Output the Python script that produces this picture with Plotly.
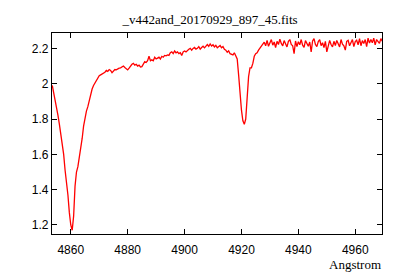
import plotly.graph_objects as go

title_text = "_v442and_20170929_897_45.fits"
x_label = "Angstrom"

wave_start = 4853.5
wave_step = 0.5

flux = [
    # 4853.5 - 4878.0
    1.99, 1.95, 1.91, 1.88, 1.82, 1.77, 1.72, 1.65, 1.60, 1.51,
    1.45, 1.37, 1.27, 1.20, 1.17, 1.25, 1.42, 1.50, 1.53, 1.58,
    1.64, 1.69, 1.76, 1.81, 1.845, 1.87, 1.91, 1.93, 1.97, 1.99,
    2.005, 2.02, 2.03, 2.045, 2.05, 2.055, 2.06, 2.065, 2.075, 2.07,
    2.08, 2.075, 2.062, 2.075, 2.08, 2.078, 2.085, 2.088, 2.09, 2.095,
    # 4878.5 - 4903.0
    2.10, 2.092, 2.082, 2.078, 2.088, 2.10, 2.11, 2.115, 2.105, 2.11,
    2.10, 2.105, 2.095, 2.097, 2.11, 2.125, 2.12, 2.13, 2.155, 2.13,
    2.135, 2.13, 2.15, 2.14, 2.145, 2.15, 2.14, 2.155, 2.15, 2.16,
    2.158, 2.163, 2.16, 2.175, 2.18, 2.17, 2.185, 2.175, 2.18, 2.17,
    2.175, 2.16, 2.18, 2.185, 2.18, 2.19, 2.195, 2.20, 2.19, 2.20,
    # 4903.5 - 4928.0
    2.205, 2.195, 2.20, 2.21, 2.196, 2.205, 2.212, 2.203, 2.215, 2.222,
    2.212, 2.225, 2.213, 2.22, 2.208, 2.217, 2.203, 2.212, 2.216, 2.203,
    2.21, 2.195, 2.19, 2.178, 2.186, 2.17, 2.165, 2.163, 2.175, 2.16,
    2.14, 2.05, 1.93, 1.85, 1.79, 1.77, 1.80, 1.93, 2.04, 2.09,
    2.09, 2.115, 2.155, 2.17, 2.175, 2.19, 2.20, 2.215, 2.225, 2.235,
    # 4928.5 - 4953.0
    2.215, 2.245, 2.212, 2.238, 2.25, 2.218, 2.236, 2.205, 2.24, 2.222,
    2.252, 2.228, 2.214, 2.244, 2.226, 2.208, 2.24, 2.25, 2.222, 2.215,
    2.17, 2.242, 2.21, 2.238, 2.22, 2.25, 2.218, 2.205, 2.244, 2.23,
    2.212, 2.236, 2.18, 2.242, 2.255, 2.222, 2.21, 2.238, 2.25, 2.215,
    2.232, 2.205, 2.24, 2.18, 2.215, 2.245, 2.222, 2.208, 2.24, 2.216,
    # 4953.5 - 4969.5
    2.245, 2.222, 2.208, 2.25, 2.224, 2.214, 2.19, 2.24, 2.246, 2.215,
    2.232, 2.25, 2.21, 2.238, 2.246, 2.22, 2.255, 2.215, 2.244, 2.228,
    2.25, 2.21, 2.258, 2.23, 2.25, 2.232, 2.258, 2.22, 2.25, 2.236,
    2.228, 2.255, 2.24,
]

wave = [wave_start + i * wave_step for i in range(len(flux))]

x_ticks = [4860, 4880, 4900, 4920, 4940, 4960]
y_ticks = [1.2, 1.4, 1.6, 1.8, 2.0, 2.2]
y_tick_text = ["1.2", "1.4", "1.6", "1.8", "2", "2.2"]

fig = go.Figure()
fig.add_trace(go.Scatter(
    x=wave, y=flux, mode="lines",
    line=dict(color="#ff0000", width=1.3),
    showlegend=False, hoverinfo="skip",
))

# The page body has an 8px margin, so the layout is shifted up/left by 8px.
fig.update_layout(
    width=400, height=280,
    margin=dict(l=44, r=26, t=25, b=54),
    paper_bgcolor="white", plot_bgcolor="white",
    title=dict(text=title_text, x=0.505, xanchor="center", y=0.959, yanchor="middle",
               font=dict(family="Liberation Serif", size=13, color="black")),
    annotations=[dict(text=x_label, xref="paper", yref="paper", x=1.003, y=-0.105,
                      xanchor="right", yanchor="top", showarrow=False,
                      font=dict(family="Liberation Serif", size=13, color="black"))],
)
fig.update_xaxes(
    range=[4853.4, 4969.4], tickvals=x_ticks, ticks="inside", ticklen=5,
    tickcolor="black", showline=True, linecolor="black", linewidth=1.2,
    mirror="ticks", showgrid=False, zeroline=False, ticklabelstandoff=4,
    tickfont=dict(family="Liberation Sans", size=12, color="black"),
)
fig.update_yaxes(
    range=[1.149, 2.287], tickvals=y_ticks, ticktext=y_tick_text, ticks="inside", ticklen=5,
    tickcolor="black", showline=True, linecolor="black", linewidth=1.2,
    mirror="ticks", showgrid=False, zeroline=False,
    tickfont=dict(family="Liberation Sans", size=12, color="black"),
)

fig.write_html("out.html")
